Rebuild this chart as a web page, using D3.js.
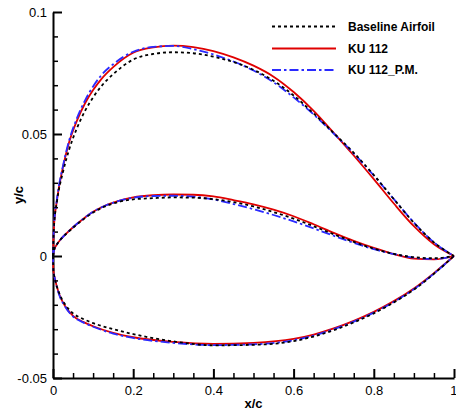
<!DOCTYPE html>
<html>
<head>
<meta charset="utf-8">
<script src="https://cdn.jsdelivr.net/npm/d3@7"></script>
<style>
  body { margin: 0; background: #fff; }
  svg { display: block; font-family: Arial, "Liberation Sans", sans-serif; }
</style>
</head>
<body>
<div id="chart"></div>
<script>
// x/c stations and y/c values
const upX = [0, 0.002, 0.01, 0.025, 0.04, 0.06, 0.08, 0.1, 0.12, 0.15, 0.2, 0.25, 0.3, 0.35, 0.4, 0.45, 0.5, 0.55, 0.6, 0.65, 0.7, 0.75, 0.8, 0.85, 0.9, 0.95, 1];
const baseUp = [0, 0.011, 0.0225, 0.0345, 0.0435, 0.0525, 0.0595, 0.065, 0.0695, 0.0745, 0.0805, 0.0828, 0.0835, 0.0831, 0.0817, 0.0795, 0.0763, 0.0718, 0.0658, 0.0584, 0.0504, 0.0423, 0.0332, 0.0233, 0.0136, 0.0056, 0];
const kuUp = [0, 0.011, 0.023, 0.0365, 0.0465, 0.0556, 0.0626, 0.068, 0.0724, 0.0774, 0.0833, 0.0855, 0.0862, 0.0856, 0.084, 0.0814, 0.078, 0.0735, 0.0672, 0.0595, 0.0505, 0.0412, 0.0315, 0.0215, 0.0122, 0.0048, 0];
const pmUp = [0, 0.011, 0.0235, 0.037, 0.0472, 0.0566, 0.0638, 0.0695, 0.074, 0.0786, 0.0837, 0.0857, 0.0861, 0.0848, 0.0826, 0.0797, 0.076, 0.0712, 0.065, 0.058, 0.0502, 0.042, 0.033, 0.0233, 0.0137, 0.0056, 0];

const midX = [0, 0.003, 0.01, 0.02, 0.035, 0.05, 0.075, 0.1, 0.12, 0.16, 0.2, 0.25, 0.3, 0.35, 0.4, 0.45, 0.5, 0.55, 0.6, 0.65, 0.7, 0.75, 0.8, 0.85, 0.9, 0.95, 1];
const baseMid = [0, 0.0025, 0.0048, 0.007, 0.0094, 0.0116, 0.0149, 0.0178, 0.0196, 0.022, 0.0232, 0.0237, 0.024, 0.0239, 0.0233, 0.0221, 0.0203, 0.018, 0.0153, 0.0122, 0.0089, 0.0058, 0.003, 0.0009, -0.0005, -0.0009, 0];
const kuMid = [0, 0.0025, 0.0048, 0.007, 0.0095, 0.0118, 0.0152, 0.0181, 0.0199, 0.0224, 0.0240, 0.0249, 0.0252, 0.0251, 0.0244, 0.0229, 0.0212, 0.019, 0.0163, 0.013, 0.0095, 0.0062, 0.0033, 0.0008, -0.0011, -0.0014, 0];
const pmMid = [0, 0.0025, 0.0048, 0.007, 0.0095, 0.0118, 0.0152, 0.0181, 0.0199, 0.0224, 0.0239, 0.0246, 0.0247, 0.0243, 0.0232, 0.0213, 0.0192, 0.0168, 0.0142, 0.0113, 0.0083, 0.0054, 0.0028, 0.0008, -0.0007, -0.0012, 0];

const lowX = [0, 0.001, 0.005, 0.015, 0.03, 0.05, 0.075, 0.1, 0.15, 0.2, 0.3, 0.4, 0.5, 0.6, 0.65, 0.7, 0.75, 0.8, 0.85, 0.9, 0.95, 1];
const baseLow = [0, -0.006, -0.0095, -0.015, -0.0198, -0.0235, -0.0258, -0.0275, -0.03, -0.032, -0.035, -0.0366, -0.0364, -0.0349, -0.0330, -0.0304, -0.0272, -0.0235, -0.019, -0.0138, -0.0073, 0];
const kuLow = [0, -0.006, -0.0095, -0.0155, -0.0205, -0.0245, -0.027, -0.0288, -0.0315, -0.0333, -0.0352, -0.036, -0.0356, -0.034, -0.0322, -0.0297, -0.0266, -0.0229, -0.0185, -0.0133, -0.007, 0];
const pmLow = [0, -0.006, -0.0095, -0.0157, -0.0207, -0.0248, -0.0272, -0.029, -0.0318, -0.0336, -0.0356, -0.0365, -0.0362, -0.0345, -0.0326, -0.0300, -0.0269, -0.0232, -0.0188, -0.0136, -0.0072, 0];

const seriesNames = ['Baseline Airfoil', 'KU 112', 'KU 112_P.M.'];
const xTicks = [0, 0.2, 0.4, 0.6, 0.8, 1];
const xTickLabels = ['0', '0.2', '0.4', '0.6', '0.8', '1'];
const yTicks = [-0.05, 0, 0.05, 0.1];
const yTickLabels = ['-0.05', '0', '0.05', '0.1'];

const width = 456;
const height = 414;
const margin = { top: 12, right: 2, bottom: 36, left: 53 };

const svg = d3.select('#chart').append('svg')
  .attr('width', width)
  .attr('height', height);

const xScale = d3.scaleLinear().domain([0, 1]).range([margin.left, width - margin.right]);
const yScale = d3.scaleLinear().domain([-0.05, 0.1]).range([height - margin.bottom, margin.top]);

// minor ticks
const xMinor = d3.range(0, 21).map(i => i * 0.05).filter((d, i) => i % 4 !== 0);
const yMinor = d3.range(-5, 11).map(i => i * 0.01).filter((d, i) => i % 5 !== 0);

svg.append('g')
  .attr('transform', `translate(0, ${yScale(-0.05)})`)
  .call(d3.axisBottom(xScale).tickValues(xMinor).tickFormat('').tickSize(-5).tickSizeOuter(0))
  .call(g => g.select('.domain').remove())
  .call(g => g.selectAll('line').attr('stroke-width', 1.5));

svg.append('g')
  .attr('transform', `translate(${xScale(0)}, 0)`)
  .call(d3.axisLeft(yScale).tickValues(yMinor).tickFormat('').tickSize(-5).tickSizeOuter(0))
  .call(g => g.select('.domain').remove())
  .call(g => g.selectAll('line').attr('stroke-width', 1.5));

const xAxis = svg.append('g')
  .attr('transform', `translate(0, ${yScale(-0.05)})`)
  .call(d3.axisBottom(xScale).tickValues(xTicks)
    .tickFormat((d, i) => xTickLabels[i]).tickSize(-9).tickSizeOuter(0).tickPadding(5));

const yAxis = svg.append('g')
  .attr('transform', `translate(${xScale(0)}, 0)`)
  .call(d3.axisLeft(yScale).tickValues(yTicks)
    .tickFormat((d, i) => yTickLabels[i]).tickSize(-9).tickSizeOuter(0).tickPadding(6));

[xAxis, yAxis].forEach(g => {
  g.select('.domain').attr('stroke-width', 2);
  g.selectAll('line').attr('stroke-width', 2);
  g.selectAll('text').attr('font-size', 13).attr('fill', '#000')
    .attr('font-family', 'Arial, "Liberation Sans", sans-serif');
});
xAxis.selectAll('text').attr('dy', '0.9em');
// keep the last label inside the window
xAxis.selectAll('text').filter(d => d === 1).attr('text-anchor', 'end').attr('x', 3);

// axis titles
svg.append('text')
  .attr('x', xScale(0.5))
  .attr('y', 408)
  .attr('text-anchor', 'middle')
  .attr('font-size', 13)
  .attr('font-weight', 'bold')
  .text('x/c');

svg.append('text')
  .attr('transform', `translate(23, ${yScale(0.025)}) rotate(-90)`)
  .attr('text-anchor', 'middle')
  .attr('font-size', 13)
  .attr('font-weight', 'bold')
  .text('y/c');

const styles = [
  { color: '#000000', dash: '3,3', width: 1.8 },
  { color: '#e00000', dash: null, width: 1.8 },
  { color: '#2a2aff', dash: '9,3,2.5,3', width: 1.8 }
];

const curves = [
  [[upX, baseUp], [midX, baseMid], [lowX, baseLow]],
  [[upX, kuUp], [midX, kuMid], [lowX, kuLow]],
  [[upX, pmUp], [midX, pmMid], [lowX, pmLow]]
];

const line = d3.line()
  .x(d => xScale(d[0]))
  .y(d => yScale(d[1]))
  .curve(d3.curveMonotoneX);

const plot = svg.append('g').attr('class', 'curves');

// red first, then blue, then the black dots on top
[1, 2, 0].forEach(s => {
  curves[s].forEach(([xs, ys]) => {
    plot.append('path')
      .datum(xs.map((x, i) => [x, ys[i]]))
      .attr('d', line)
      .attr('fill', 'none')
      .attr('stroke', styles[s].color)
      .attr('stroke-width', styles[s].width)
      .attr('stroke-dasharray', styles[s].dash);
  });
});

// legend
const legend = svg.append('g').attr('class', 'legend');
const legendY = [26.5, 48.5, 70];
seriesNames.forEach((name, i) => {
  legend.append('line')
    .attr('x1', 272).attr('x2', 336)
    .attr('y1', legendY[i]).attr('y2', legendY[i])
    .attr('stroke', styles[i].color)
    .attr('stroke-width', styles[i].width)
    .attr('stroke-dasharray', styles[i].dash);
  legend.append('text')
    .attr('x', 348)
    .attr('y', legendY[i])
    .attr('dy', '0.35em')
    .attr('font-size', 12)
    .attr('font-weight', 'bold')
    .text(name);
});
</script>
</body>
</html>
